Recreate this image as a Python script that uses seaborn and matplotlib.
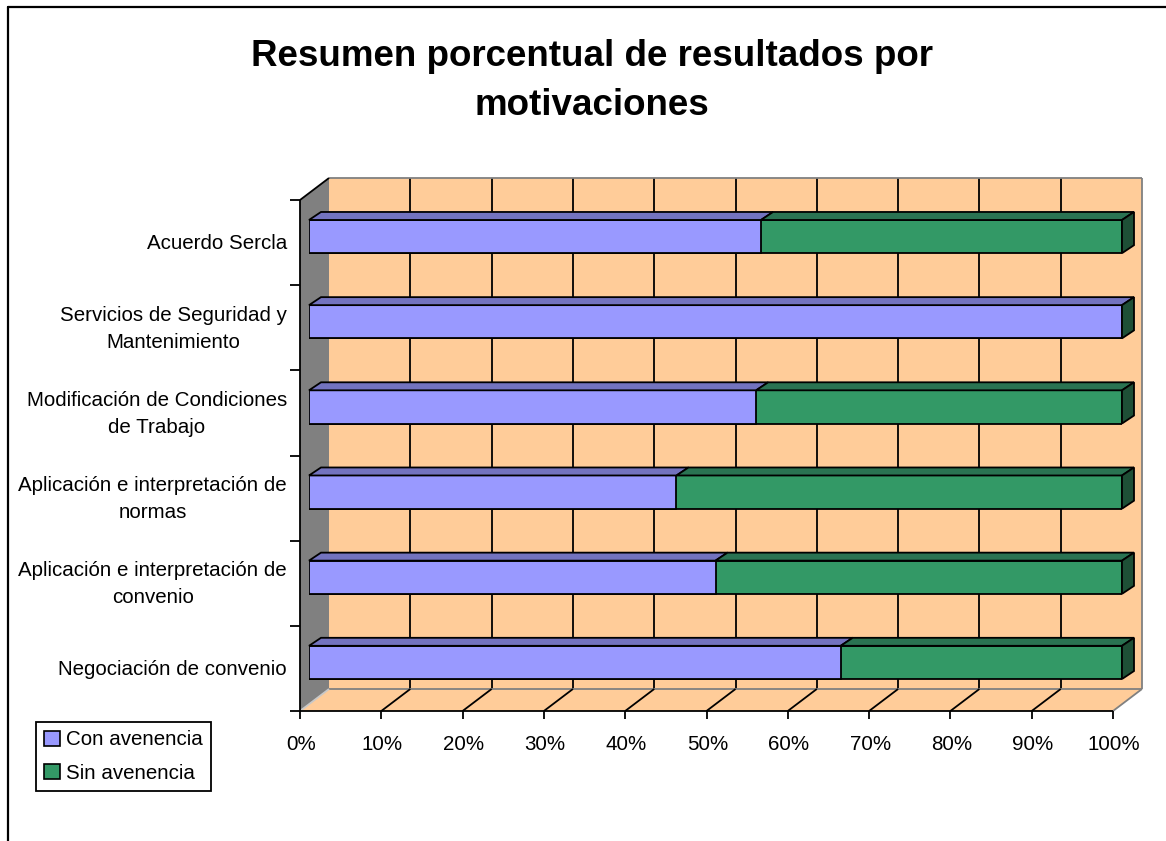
import numpy as np
import pandas as pd
import matplotlib
matplotlib.use("Agg")
import matplotlib.pyplot as plt
import seaborn as sns
from matplotlib.patches import Polygon, Patch
from matplotlib.lines import Line2D

# ---- data -------------------------------------------------------------
categories = [
    "Acuerdo Sercla",
    "Servicios de Seguridad y\nMantenimiento",
    "Modificación de Condiciones\nde Trabajo",
    "Aplicación e interpretación de\nnormas",
    "Aplicación e interpretación de\nconvenio",
    "Negociación de convenio",
]
con_avenencia = [55.6, 100.0, 55.0, 45.2, 50.0, 65.4]
sin_avenencia = [44.4, 0.0, 45.0, 54.8, 50.0, 34.6]
series_names = ["Con avenencia", "Sin avenencia"]
x_ticks = [0, 10, 20, 30, 40, 50, 60, 70, 80, 90, 100]
x_tick_labels = ["0%", "10%", "20%", "30%", "40%", "50%", "60%", "70%", "80%", "90%", "100%"]
title = "Resumen porcentual de resultados por\nmotivaciones"

# ---- style ------------------------------------------------------------
PURPLE, PURPLE_TOP = "#9999FF", "#7373BF"
GREEN, GREEN_TOP, GREEN_SIDE = "#339966", "#2A7352", "#1E4F36"
PEACH, GRAY = "#FFCC99", "#808080"
LW = 1.3
FS = 14.8

sns.set_style("white")
plt.rcParams["font.family"] = ["Liberation Sans", "DejaVu Sans"]
plt.rcParams["text.color"] = "black"

W_PX, H_PX = 1166, 841
fig = plt.figure(figsize=(W_PX / 100, H_PX / 100), dpi=100)
fig.patch.set_facecolor("white")

# axes = plane of the bars' front faces (pixel box)
left, right, top, bottom = 309, 1122, 194, 705
ax = fig.add_axes([left / W_PX, 1 - bottom / H_PX,
                   (right - left) / W_PX, (bottom - top) / H_PX])

BAR_W = 0.39
df = pd.DataFrame({
    "motivo": categories,
    "con": con_avenencia,
    "total": np.add(con_avenencia, sin_avenencia),
})
sns.barplot(data=df, x="total", y="motivo", color=GREEN, saturation=1,
            width=BAR_W, errorbar=None, edgecolor="black", linewidth=LW,
            zorder=4, ax=ax)
sns.barplot(data=df, x="con", y="motivo", color=PURPLE, saturation=1,
            width=BAR_W, errorbar=None, edgecolor="black", linewidth=LW,
            zorder=5, ax=ax)
ax.set_xlim(0, 100)
ax.set_ylim(5.5, -0.5)
ax.set_axis_off()

n = len(categories)
sx = (right - left) / 100.0
sy = (bottom - top) / n

# depth offsets in pixels (right, down)
F = (-9, 6)     # front edge of floor / axes
W = (20, -16)   # back wall
B = (12, -8)    # back of the bars


def sh(x, y, off):
    return (x + off[0] / sx, y + off[1] / sy)


def poly(pts, fc, ec="none", z=1, lw=LW):
    ax.add_patch(Polygon(pts, closed=True, facecolor=fc, edgecolor=ec,
                         linewidth=lw, zorder=z, clip_on=False,
                         joinstyle="miter"))


def line(p0, p1, color="black", z=2, lw=LW):
    ax.add_line(Line2D([p0[0], p1[0]], [p0[1], p1[1]], color=color, lw=lw,
                       zorder=z, clip_on=False, solid_capstyle="butt"))


y0, y1 = -0.5, n - 0.5

# back wall
poly([sh(0, y0, W), sh(100, y0, W), sh(100, y1, W), sh(0, y1, W)], PEACH, z=0)
for x in x_ticks[1:-1]:
    line(sh(x, y0, W), sh(x, y1, W), z=1)
line(sh(0, y0, W), sh(100, y0, W), color=GRAY, z=1)
line(sh(100, y0, W), sh(100, y1, W), color=GRAY, z=1)

# left wall
poly([sh(0, y0, F), sh(0, y0, W), sh(0, y1, W), sh(0, y1, F)], GRAY, z=1)
line(sh(0, y0, F), sh(0, y0, W), z=2)

# floor
poly([sh(0, y1, F), sh(100, y1, F), sh(100, y1, W), sh(0, y1, W)], PEACH, z=1)
line(sh(0, y1, W), sh(100, y1, W), color=GRAY, z=2)
line(sh(100, y1, F), sh(100, y1, W), color=GRAY, z=2)
line(sh(0, y1, F), sh(0, y1, W), color="#C8C8C8", z=2)
for x in x_ticks[1:-1]:
    line(sh(x, y1, F), sh(x, y1, W), z=2)

# bar tops and end caps
for i, (c, s) in enumerate(zip(con_avenencia, sin_avenencia)):
    yt, yb = i - BAR_W / 2, i + BAR_W / 2
    segs = [(0, c, PURPLE_TOP), (c, c + s, GREEN_TOP)]
    for xa, xb, col in segs:
        if xb - xa <= 0:
            continue
        poly([(xa, yt), (xb, yt), sh(xb, yt, B), sh(xa, yt, B)], col,
             ec="black", z=6)
    xe = c + s
    poly([(xe, yt), (xe, yb), sh(xe, yb, B), sh(xe, yt, B)], GREEN_SIDE,
         ec="black", z=6)

# axis lines, ticks and labels
line(sh(0, y0, F), sh(0, y1, F), z=7)
line(sh(0, y1, F), sh(100, y1, F), z=7)
for x, lab in zip(x_ticks, x_tick_labels):
    line(sh(x, y1, F), sh(x, y1, (F[0], F[1] + 8)), z=7)
    ax.text(*sh(x, y1, (F[0] + 1, F[1] + 33)), lab, ha="center", va="center",
            fontsize=FS, clip_on=False)
for b in np.arange(y0, y1 + 0.01, 1.0):
    line(sh(0, b, F), sh(0, b, (F[0] - 10, F[1])), z=7)
for i, lab in enumerate(categories):
    ax.text(*sh(0, i, (F[0] - 13, F[1] + 1)), lab, ha="right", va="center",
            multialignment="center", fontsize=FS, linespacing=1.55,
            clip_on=False)

# title
fig.text(592 / W_PX, 1 - 81 / H_PX, title, ha="center", va="center",
         fontsize=26.5, fontweight="bold", linespacing=1.5)

# legend
handles = [Patch(facecolor=PURPLE, edgecolor="black", linewidth=1.2),
           Patch(facecolor=GREEN, edgecolor="black", linewidth=1.2)]
leg = fig.legend(handles, series_names, loc="upper left",
                 bbox_to_anchor=(36 / W_PX, 1 - 722 / H_PX),
                 frameon=True, fancybox=False, framealpha=1,
                 edgecolor="black", fontsize=FS, handlelength=0.75,
                 handleheight=0.75, handletextpad=0.3, borderpad=0.4,
                 labelspacing=0.7, borderaxespad=0)
leg.get_frame().set_linewidth(1.3)

# outer chart border
fig.add_artist(Line2D([8 / W_PX, 1], [1 - 7 / H_PX, 1 - 7 / H_PX],
                      transform=fig.transFigure, color="black", lw=1.6))
fig.add_artist(Line2D([8 / W_PX, 8 / W_PX], [0, 1 - 7 / H_PX],
                      transform=fig.transFigure, color="black", lw=1.6))

fig.savefig("out.png", dpi=100)
